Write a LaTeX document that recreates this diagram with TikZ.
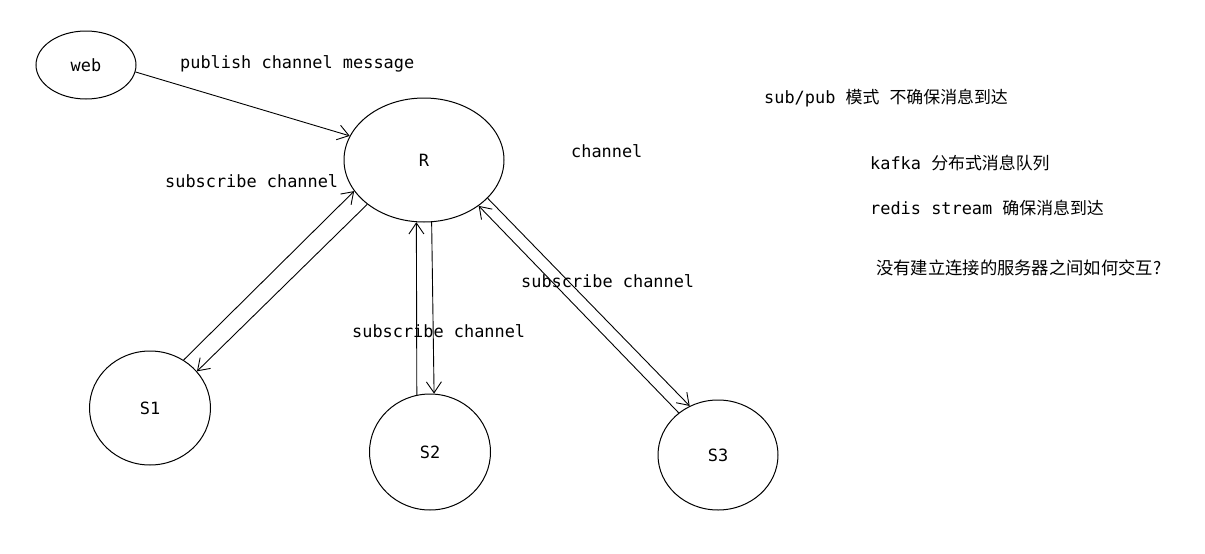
\documentclass[tikz,border=0pt]{standalone}
\usepackage{fontspec}
\setmonofont{DejaVu Sans Mono}
\newfontfamily\cjk{Noto Sans CJK SC}
\usetikzlibrary{shapes.geometric,arrows.meta}
\begin{document}
\begin{tikzpicture}[x=1pt,y=1pt,
  blob/.style={draw, ellipse, inner sep=0pt, line width=1pt, font=\ttfamily\fontsize{16.9}{18}\selectfont},
  lbl/.style={inner sep=0pt, font=\ttfamily\fontsize{16.9}{18}\selectfont},
  conn/.style={line width=0.9pt, -{Straight Barb[length=11pt,width=15pt]}}]
\useasboundingbox (0,0) rectangle (1205,-554);
% nodes
\node[blob, minimum width=100pt, minimum height=68pt] (web) at (86,-65) {web};
\node[blob, minimum width=160pt, minimum height=124pt] (R) at (424,-160) {R};
\node[blob, minimum width=121pt, minimum height=114pt] (S1) at (150,-408) {S1};
\node[blob, minimum width=121pt, minimum height=116pt] (S2) at (430,-452) {S2};
\node[blob, minimum width=120pt, minimum height=110pt] (S3) at (718,-455) {S3};
% connectors
\draw[conn] (web.-8) -- (R.162.7);
\draw[conn] (S1.55.5) -- (R.204.2);
\draw[conn] (R.218.3) -- (S1.38.7);
\draw[conn] (S2.103.5) -- (R.263.8);
\draw[conn] (R.277.5) -- (S2.86.7);
\draw[conn] (S3.133) -- (R.320.2);
\draw[conn] (R.329) -- (S3.120);
% labels
\node[lbl, anchor=west] (pub) at (180,-64) {publish channel message};
\node[lbl, anchor=west] (ch) at (571,-151) {channel};
\node[lbl, anchor=west] (sub1) at (165,-181) {subscribe channel};
\node[lbl, anchor=west] (sub2) at (352,-331) {subscribe channel};
\node[lbl, anchor=west] (sub3) at (521,-281) {subscribe channel};
\node[lbl, anchor=west] (n1) at (764,-98) {sub/pub {\cjk 模式}\ {\cjk 不确保消息到达}};
\node[lbl, anchor=west] (n2) at (870,-163) {kafka {\cjk 分布式消息队列}};
\node[lbl, anchor=west] (n3) at (870,-208) {redis stream {\cjk 确保消息到达}};
\node[lbl, anchor=west] (n4) at (876,-268) {\cjk\fontsize{17.3}{19}\selectfont 没有建立连接的服务器之间如何交互?};
\end{tikzpicture}
\end{document}
